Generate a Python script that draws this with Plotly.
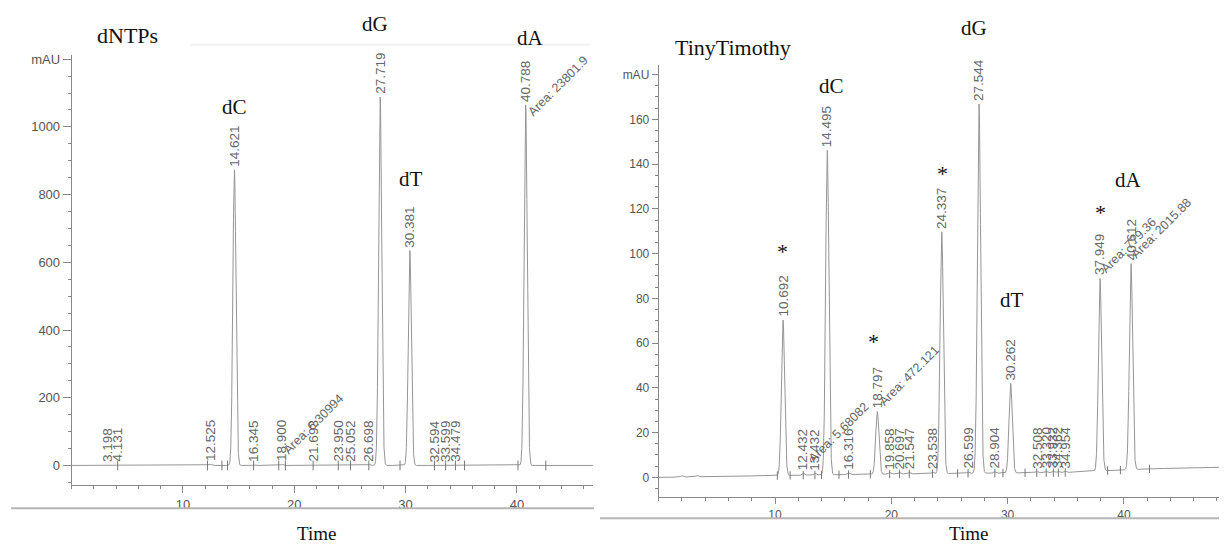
import numpy as np
import plotly.graph_objects as go

# reference canvas size; the page body adds an 8px margin, so the figure is drawn 8px smaller
REF_W, REF_H = 1227, 548
OX, OY = 8, 8
W, H = REF_W - OX, REF_H - OY

# ---------------- data: left chromatogram (dNTPs) ----------------
left_times = [3.198, 4.131, 12.525, 14.621, 16.345, 18.900, 21.693, 23.950, 25.052,
              26.698, 27.719, 30.381, 32.594, 33.599, 34.479, 40.788]
left_heights = [2, 2, 3, 873, 2, 3, 2, 2, 2, 3, 1088, 635, 2, 2, 2, 1065]
left_labels = ["3.198", "4.131", "12.525", "14.621", "16.345", "18.900", "21.693", "23.950",
               "25.052", "26.698", "27.719", "30.381", "32.594", "33.599", "34.479", "40.788"]
left_area_peaks = [18.900, 40.788]
left_area_heights = [3, 1065]
left_area_text = ["Area: 6.30994", "Area: 23801.9"]
left_marks = [4.131, 12.2, 13.5, 14.0, 16.345, 18.6, 19.2, 21.693, 23.950, 25.052, 26.698,
              29.5, 32.594, 33.599, 34.479, 35.3, 40.1, 42.6]
left_yticks = [0, 200, 400, 600, 800, 1000, 1200]
left_yticktext = ["0", "200", "400", "600", "800", "1000", "mAU"]
left_xticks = [10, 20, 30, 40]

# ---------------- data: right chromatogram (TinyTimothy) ----------------
right_times = [2.0, 3.3, 10.692, 12.432, 13.432, 14.495, 16.316, 18.797, 19.858, 20.697,
               21.547, 23.538, 24.337, 26.599, 27.544, 28.904, 30.262, 32.508, 33.320,
               33.932, 34.362, 34.954, 37.949, 40.612]
right_heights = [0.6, 0.6, 69.5, 0.8, 0.8, 145, 0.8, 28.0, 0.6, 0.6, 0.6, 0.6, 108, 0.6, 165,
                 0.6, 40, 0.5, 0.5, 0.5, 0.5, 0.5, 86, 92]
right_labels = ["", "", "10.692", "12.432", "13.432", "14.495", "16.316", "18.797", "19.858",
                "20.697", "21.547", "23.538", "24.337", "26.599", "27.544", "28.904", "30.262",
                "32.508", "33.320", "33.932", "34.362", "34.954", "37.949", "40.612"]
right_area_peaks = [12.432, 18.797, 37.949, 40.612]
right_area_heights = [0.8, 28.0, 86, 92]
right_area_text = ["Area: 5.68082", "Area: 472.121", "Area: 779.36", "Area: 2015.88"]
right_marks = [10.2, 11.3, 12.432, 13.432, 14.0, 15.5, 16.316, 18.2, 19.858, 20.697, 21.547,
               23.538, 25.7, 26.599, 28.904, 29.6, 31.5, 32.508, 33.320, 33.932, 34.362,
               34.954, 38.6, 39.7, 42.2]
right_base_t = [0, 10, 20, 35, 42, 49]
right_base_v = [0, 0.8, 1.5, 2.2, 3.8, 4.6]
right_yticks = [0, 20, 40, 60, 80, 100, 120, 140, 160, 180]
right_yticktext = ["0", "20", "40", "60", "80", "100", "120", "140", "160", "mAU"]
right_xticks = [10, 20, 30, 40]

# ---------------- geometry (reference pixel -> paper) ----------------
def px(x):
    return (x - OX) / W

def py(y):
    return 1 - (y - OY) / H

L_XR = [0, 46.84]
L_YR = [-58.8, 1213]
R_XR = [0, (REF_W - 658.7) / 11.63]
R_YR = [-8.9, 184.4]

SIG_BIG = 0.14
SIG_SMALL = 0.10


def trace_curve(times, heights, tmax, base_t=None, base_v=None):
    t = np.linspace(0, tmax, 7000)
    if base_t is not None:
        y = np.interp(t, base_t, base_v)
    else:
        y = np.zeros_like(t)
    for ti, hi in zip(times, heights):
        s = SIG_BIG if hi > 20 else SIG_SMALL
        y = y + hi * np.exp(-0.5 * ((t - ti) / s) ** 2)
    return t, y


fig = go.Figure()

lt, ly = trace_curve(left_times, left_heights, L_XR[1])
fig.add_trace(go.Scatter(x=lt, y=ly, mode="lines", line=dict(color="#959595", width=1),
                         xaxis="x", yaxis="y", showlegend=False, hoverinfo="skip"))
fig.add_trace(go.Scatter(x=left_marks, y=[0] * len(left_marks), mode="markers",
                         marker=dict(symbol="line-ns", size=7, line=dict(color="#777", width=1)),
                         xaxis="x", yaxis="y", showlegend=False, hoverinfo="skip"))

rt, ry = trace_curve(right_times, right_heights, R_XR[1], right_base_t, right_base_v)
fig.add_trace(go.Scatter(x=rt, y=ry, mode="lines", line=dict(color="#959595", width=1),
                         xaxis="x2", yaxis="y2", showlegend=False, hoverinfo="skip"))
rm_base = np.interp(right_marks, right_base_t, right_base_v)
fig.add_trace(go.Scatter(x=right_marks, y=rm_base, mode="markers",
                         marker=dict(symbol="line-ns", size=6, line=dict(color="#777", width=1)),
                         xaxis="x2", yaxis="y2", showlegend=False, hoverinfo="skip"))

annotations = []
LBL_FONT = dict(family="Liberation Sans, Arial, sans-serif", size=13.5, color="#666")

# peak time labels
for t, h, s in zip(left_times, left_heights, left_labels):
    if s:
        annotations.append(dict(x=t, y=h, xref="x", yref="y", text=s, showarrow=False,
                                textangle=-90, xanchor="center", yanchor="bottom", yshift=1,
                                font=LBL_FONT))
for t, h, s in zip(right_times, right_heights, right_labels):
    if s:
        b = float(np.interp(t, right_base_t, right_base_v))
        annotations.append(dict(x=t, y=h + b, xref="x2", yref="y2", text=s, showarrow=False,
                                textangle=-90, xanchor="center", yanchor="bottom", yshift=1,
                                font=LBL_FONT))

# area labels
AREA_FONT = dict(family="Liberation Sans, Arial, sans-serif", size=12.5, color="#666")
left_area_shift = [(-4, 5), (-3, -17)]
for t, h, s, (dx, dy) in zip(left_area_peaks, left_area_heights, left_area_text, left_area_shift):
    annotations.append(dict(x=t, y=h, xref="x", yref="y", text=s, showarrow=False,
                            textangle=-45, xanchor="left", yanchor="bottom",
                            xshift=dx, yshift=dy, font=AREA_FONT))
right_area_shift = [(0, 6), (-4, 0), (-4, 0), (-5, 0)]
for t, h, s, (dx, dy) in zip(right_area_peaks, right_area_heights, right_area_text, right_area_shift):
    b = float(np.interp(t, right_base_t, right_base_v))
    annotations.append(dict(x=t, y=h + b, xref="x2", yref="y2", text=s, showarrow=False,
                            textangle=-45, xanchor="left", yanchor="bottom",
                            xshift=dx, yshift=dy, font=AREA_FONT))

# big serif labels (reference pixel centres)
SERIF = "Liberation Serif, Times New Roman, serif"
big_labels = [("dNTPs", 127, 33, 22), ("dC", 234, 105, 21), ("dG", 375, 21, 21),
              ("dT", 411, 177, 21), ("dA", 530, 35, 21), ("Time", 316, 533, 19),
              ("TinyTimothy", 733, 45, 22), ("dC", 831, 83, 21), ("dG", 974, 25, 21),
              ("dT", 1012, 299, 21), ("dA", 1128, 178, 21), ("Time", 968, 533, 19),
              ("*", 782, 250, 22), ("*", 873, 340, 22), ("*", 942, 171, 22),
              ("*", 1100, 211, 22)]
for s, x, y, fs in big_labels:
    annotations.append(dict(x=px(x), y=py(y), xref="paper", yref="paper", text=s,
                            showarrow=False, xanchor="center", yanchor="middle",
                            font=dict(family=SERIF, size=fs, color="#111")))

shapes = [
    dict(type="line", xref="paper", yref="paper", x0=px(11), x1=px(594), y0=py(508), y1=py(508),
         line=dict(color="#b5b5b5", width=2)),
    dict(type="line", xref="paper", yref="paper", x0=px(600), x1=1, y0=py(518), y1=py(518),
         line=dict(color="#b5b5b5", width=2)),
    dict(type="line", xref="paper", yref="paper", x0=px(190), x1=px(590), y0=py(42), y1=py(42),
         line=dict(color="#f1f1f1", width=2)),
]

TICKFONT_L = dict(family="Liberation Sans, Arial, sans-serif", size=13, color="#555")
TICKFONT_R = dict(family="Liberation Sans, Arial, sans-serif", size=12, color="#555")

common_ax = dict(showline=True, linecolor="#888", linewidth=1, ticks="outside",
                 tickcolor="#888", showgrid=False, zeroline=False, fixedrange=True)

fig.update_layout(
    width=W, height=H,
    margin=dict(l=0, r=0, t=0, b=0),
    paper_bgcolor="white", plot_bgcolor="white",
    showlegend=False,
    xaxis=dict(domain=[px(71.7), px(593)], range=L_XR, anchor="y",
               tickvals=left_xticks, ticklen=7, tickfont=TICKFONT_L,
               minor=dict(dtick=2, tick0=0, ticklen=3, tickcolor="#888", ticks="outside"),
               **common_ax),
    yaxis=dict(domain=[py(485), py(52)], range=L_YR, anchor="x",
               tickvals=left_yticks, ticktext=left_yticktext, ticklen=8, tickfont=TICKFONT_L,
               minor=dict(dtick=50, tick0=0, ticklen=3, tickcolor="#888", ticks="outside"),
               **common_ax),
    xaxis2=dict(domain=[px(658.7), 1], range=R_XR, anchor="y2",
                tickvals=right_xticks, ticklen=6, tickfont=TICKFONT_R,
                minor=dict(dtick=2, tick0=0, ticklen=3, tickcolor="#888", ticks="outside"),
                **common_ax),
    yaxis2=dict(domain=[py(497), py(62)], range=R_YR, anchor="x2",
                tickvals=right_yticks, ticktext=right_yticktext, ticklen=6, tickfont=TICKFONT_R,
                minor=dict(dtick=5, tick0=0, ticklen=3, tickcolor="#888", ticks="outside"),
                **common_ax),
    annotations=annotations,
    shapes=shapes,
)

fig.write_html("out.html")
